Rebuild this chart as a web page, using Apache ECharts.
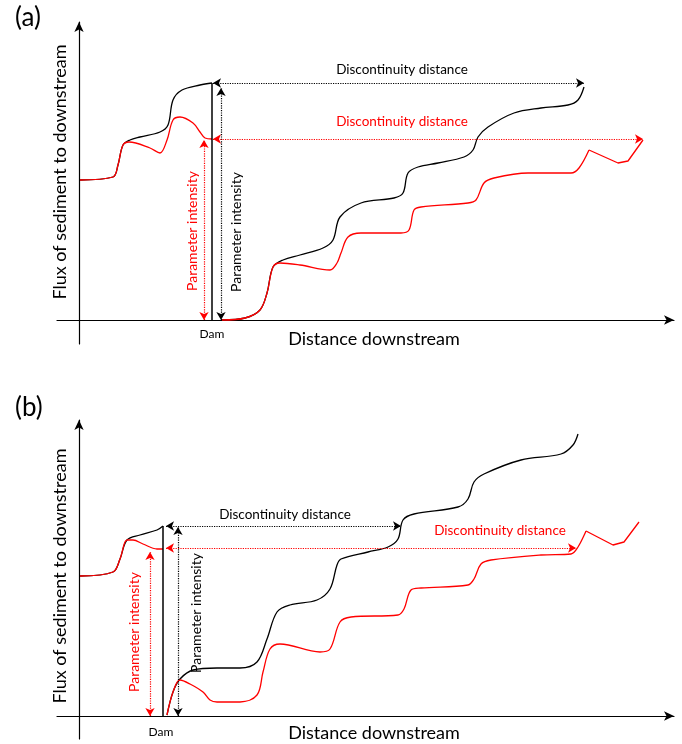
<!DOCTYPE html>
<html>
<head>
<meta charset="UTF-8">
<title>Dam discontinuity</title>
<script src="https://cdn.jsdelivr.net/npm/echarts@6/dist/echarts.min.js"></script>
</head>
<body style="margin:0;background:#fff">
<div id="main" style="width:682px;height:744px"></div>
<script>
// values: x = distance from the y axis, y = height above the x axis
// panel (a)
var blackUpA = [[1,140],[34,143],[39,155],[44,175],[51,180],[61,183],[81,188],[89,195],[94,220],[103,230],[121,235],[133,237]];
var redUpA = [[1,140],[34,143],[39,155],[44,175],[50,178],[71,172],[81,167],[88,180],[94,200],[101,203],[114,197],[121,188],[126,182],[133,181]];
var blackDownA = [[143,0],[166,2],[181,10],[188,27],[194,53],[204,60],[221,65],[244,72],[254,80],[261,103],[282,117],[315,122],[324,127],[329,147],[339,153],[359,157],[385,163],[394,170],[399,183],[409,193],[435,207],[462,212],[489,215],[499,220],[505,233]];
var redDownA = [[143,0],[166,2],[181,10],[188,27],[194,53],[201,57],[221,55],[251,50],[258,57],[262,67],[269,83],[282,87],[322,87],[330,90],[335,110],[342,113],[389,117],[397,120],[405,137],[415,142],[449,147],[492,147],[500,152],[510,170]];
var redTailA = [[510,170],[539,157],[549,159],[564,180]];
// panel (b)
var blackUpB = [[1,140],[34,144],[41,157],[48,176],[61,181],[78,186],[84,190]];
var redUpB = [[1,140],[34,144],[41,157],[48,176],[54,176],[64,172],[78,167],[84,167]];
var blackDownB = [[88,1],[94,24],[101,37],[114,46],[138,48],[161,48],[178,54],[188,77],[198,104],[211,111],[238,116],[251,127],[258,151],[262,157],[289,164],[309,169],[319,177],[324,196],[335,202],[379,209],[389,217],[395,234],[405,242],[442,256],[482,262],[494,271],[499,282]];
var redDownB = [[88,1],[94,24],[101,36],[111,32],[124,24],[131,16],[138,14],[161,14],[178,21],[184,44],[191,67],[201,72],[241,64],[251,67],[261,94],[272,99],[319,101],[325,107],[332,126],[342,128],[389,131],[395,137],[402,152],[412,156],[462,161],[492,162],[499,169],[507,185]];
var redTailB = [[507,185],[534,171],[545,174],[560,194]];

// annotation lines [x1, y1, x2, y2]
var damA = [133, 0, 133, 237];
var blackIntensityA = [142, 0, 142, 232];
var redIntensityA = [125, 0, 125, 180];
var blackDistanceA = [134, 237, 505, 237];
var redDistanceA = [134, 181, 564, 181];
var damB = [84, 0, 84, 190];
var blackIntensityB = [99, 0, 99, 189];
var redIntensityB = [71, 0, 71, 164];
var blackDistanceB = [87, 190, 322, 190];
var redDistanceB = [87, 168, 497, 168];

// text labels [panel, x, y, text, colour, vertical, size]
var labels = [
    [0, 323, 250, 'Discontinuity distance', '#000', false, 13.5],
    [0, 323, 198, 'Discontinuity distance', '#ff0000', false, 13.5],
    [0, 157, 88, 'Parameter intensity', '#000', true, 14],
    [0, 113, 89, 'Parameter intensity', '#ff0000', true, 14],
    [0, 133, -14, 'Dam', '#000', false, 12],
    [0, 295, -19, 'Distance downstream', '#000', false, 18],
    [0, -19, 148, 'Flux of sediment to downstream', '#000', true, 18],
    [1, 206, 201, 'Discontinuity distance', '#000', false, 13.5],
    [1, 421, 185, 'Discontinuity distance', '#ff0000', false, 13.5],
    [1, 117, 103, 'Parameter intensity', '#000', true, 14],
    [1, 55, 84, 'Parameter intensity', '#ff0000', true, 14],
    [1, 82, -16, 'Dam', '#000', false, 12],
    [1, 295, -17, 'Distance downstream', '#000', false, 18],
    [1, -19, 140, 'Flux of sediment to downstream', '#000', true, 18]
];

var FONT = 'Lato, "Open Sans", sans-serif';
var myChart = echarts.init(document.getElementById('main'));

function arrowLine(seg, color, solid) {
    return [
        { coord: [seg[0], seg[1]], symbol: solid ? 'none' : 'arrow',
          lineStyle: { color: color, width: solid ? 1.5 : 1.2, type: solid ? 'solid' : 'dotted' } },
        { coord: [seg[2], seg[3]], symbol: solid ? 'none' : 'arrow' }
    ];
}

function curve(idx, data, color, smooth, marks) {
    var s = {
        type: 'line', xAxisIndex: idx, yAxisIndex: idx, data: data,
        smooth: smooth ? 0.35 : false, showSymbol: false, silent: true,
        lineStyle: { color: color, width: 1.3 }
    };
    if (marks) {
        s.markLine = {
            silent: true, symbolSize: [7, 8], label: { show: false },
            animation: false, data: marks
        };
    }
    return s;
}

function axisX(idx) {
    return {
        type: 'value', gridIndex: idx, min: -22, max: 595,
        axisLine: { onZero: true, symbol: ['none', 'arrow'], symbolSize: [7, 10], lineStyle: { color: '#000', width: 1.2 } },
        axisTick: { show: false }, axisLabel: { show: false }, splitLine: { show: false }
    };
}

function axisY(idx, min, max) {
    return {
        type: 'value', gridIndex: idx, min: min, max: max,
        axisLine: { onZero: true, symbol: ['none', 'arrow'], symbolSize: [7, 10], lineStyle: { color: '#000', width: 1.2 } },
        axisTick: { show: false }, axisLabel: { show: false }, splitLine: { show: false }
    };
}

var option = {
    animation: false,
    grid: [
        { left: 57, right: 8, top: 22, height: 322, outerBoundsMode: 'none' },
        { left: 57, right: 8, top: 420, height: 319, outerBoundsMode: 'none' }
    ],
    xAxis: [axisX(0), axisX(1)],
    yAxis: [axisY(0, -24, 298), axisY(1, -23, 296)],
    series: [
        curve(0, blackUpA, '#000', true, [arrowLine(damA, '#000', true), arrowLine(blackIntensityA, '#000'), arrowLine(blackDistanceA, '#000')]),
        curve(0, blackDownA, '#000', true),
        curve(0, redUpA, '#ff0000', true, [arrowLine(redIntensityA, '#ff0000'), arrowLine(redDistanceA, '#ff0000')]),
        curve(0, redDownA, '#ff0000', true),
        curve(0, redTailA, '#ff0000', false),
        curve(1, blackUpB, '#000', true, [arrowLine(damB, '#000', true), arrowLine(blackIntensityB, '#000'), arrowLine(blackDistanceB, '#000')]),
        curve(1, blackDownB, '#000', true),
        curve(1, redUpB, '#ff0000', true, [arrowLine(redIntensityB, '#ff0000'), arrowLine(redDistanceB, '#ff0000')]),
        curve(1, redDownB, '#ff0000', true),
        curve(1, redTailB, '#ff0000', false)
    ]
};
myChart.setOption(option);

// place the text labels from data coordinates
var graphics = [
    { type: 'text', left: 15, top: 5, style: { text: '(a)', font: '26px ' + FONT, fill: '#000' } },
    { type: 'text', left: 15, top: 395, style: { text: '(b)', font: '26px ' + FONT, fill: '#000' } }
];
labels.forEach(function (l) {
    var p = myChart.convertToPixel({ gridIndex: l[0] }, [l[1], l[2]]);
    graphics.push({
        type: 'text', x: p[0], y: p[1], rotation: l[5] ? Math.PI / 2 : 0,
        style: {
            text: l[3], fill: l[4], align: 'center', verticalAlign: 'middle',
            font: l[6] + 'px ' + FONT
        }
    });
});
myChart.setOption({ graphic: graphics });
</script>
</body>
</html>
